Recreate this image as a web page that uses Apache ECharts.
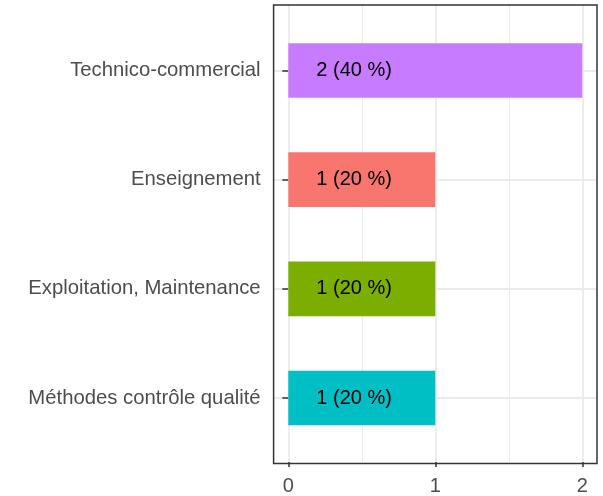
<!DOCTYPE html>
<html>
<head>
<meta charset="utf-8">
<script src="https://cdn.jsdelivr.net/npm/echarts@6/dist/echarts.min.js"></script>
<style>
  html, body { margin: 0; padding: 0; background: #fff; }
  #chart { width: 603px; height: 496px; }
</style>
</head>
<body>
<div id="chart"></div>
<script>
// categories bottom -> top (echarts y category axis starts at bottom)
var categories = ['Méthodes contrôle qualité', 'Exploitation, Maintenance', 'Enseignement', 'Technico-commercial'];
var counts = [1, 1, 1, 2];
var barColors = ['#00BFC4', '#7CAE00', '#F8766D', '#C77CFF'];
var xTicks = [0, 1, 2];

var total = counts.reduce(function (a, b) { return a + b; }, 0);
var font = 'Liberation Sans, Arial, Helvetica, sans-serif';

var chart = echarts.init(document.getElementById('chart'), null, { renderer: 'canvas' });

var option = {
    backgroundColor: '#ffffff',
    animation: false,
    grid: [
        // 0: panel border
        { left: 273.6, top: 5, width: 323.4, height: 458.5, show: true, borderColor: '#333333', borderWidth: 1.5, backgroundColor: 'transparent', z: 3 },
        // 1: x axis + vertical grid lines (0..2)
        { left: 288.3, top: 5, width: 294, height: 458.5 },
        // 2: horizontal grid lines through category centres
        { left: 273.6, top: 70.5, width: 323.4, height: 327.5 },
        // 3: bars (x from -0.1 to 2.1, same as panel)
        { left: 273.6, top: 15.9, width: 323.4, height: 436.7 }
    ],
    xAxis: [
        { gridIndex: 0, type: 'value', show: false },
        {
            gridIndex: 1, type: 'value', min: 0, max: xTicks[xTicks.length - 1], interval: 1,
            axisLine: { show: false },
            axisTick: { show: true, length: 5, lineStyle: { color: '#333333', width: 1.5 } },
            axisLabel: { fontSize: 20, color: '#4D4D4D', fontFamily: font, margin: 14 },
            splitLine: { show: true, lineStyle: { color: '#EBEBEB', width: 1.8 } },
            minorTick: { show: false, splitNumber: 2 },
            minorSplitLine: { show: true, lineStyle: { color: '#EBEBEB', width: 1 } }
        },
        { gridIndex: 2, type: 'value', show: false },
        { gridIndex: 3, type: 'value', min: -0.1, max: 2.1, show: false }
    ],
    yAxis: [
        { gridIndex: 0, type: 'value', show: false },
        { gridIndex: 1, type: 'value', show: false },
        {
            gridIndex: 2, type: 'value', min: 0, max: categories.length - 1, interval: 1,
            axisLine: { show: false }, axisTick: { show: false }, axisLabel: { show: false },
            splitLine: { show: true, lineStyle: { color: '#EBEBEB', width: 1.8 } }
        },
        {
            gridIndex: 3, type: 'category', data: categories,
            axisLine: { show: false },
            axisTick: { show: true, alignWithLabel: true, length: 6, lineStyle: { color: '#333333', width: 1.5 } },
            axisLabel: { fontSize: 20.3, color: '#4D4D4D', fontFamily: font, margin: 13 },
            splitLine: { show: false }
        }
    ],
    series: [
        {
            type: 'bar',
            xAxisIndex: 3,
            yAxisIndex: 3,
            barWidth: '50%',
            z: 4,
            data: counts.map(function (v, i) {
                return { value: v, itemStyle: { color: barColors[i] } };
            }),
            label: {
                show: true,
                position: 'insideLeft',
                distance: 28,
                color: '#000000',
                fontSize: 20,
                fontFamily: font,
                formatter: function (p) {
                    return p.value + ' (' + Math.round(p.value / total * 100) + ' %)';
                }
            }
        }
    ]
};

chart.setOption(option);
</script>
</body>
</html>
